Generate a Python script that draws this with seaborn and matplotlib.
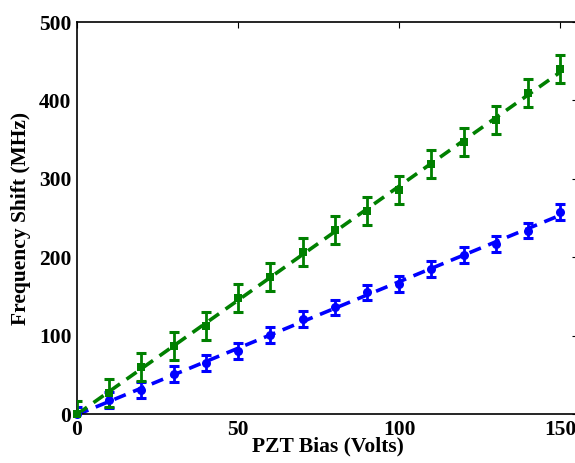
import numpy as np
import pandas as pd
import matplotlib
matplotlib.use("Agg")
import matplotlib.pyplot as plt
import seaborn as sns

# ---- data ----
bias = [0, 10, 20, 30, 40, 50, 60, 70, 80, 90, 100, 110, 120, 130, 140, 150]
shift_green = [0, 27, 60, 87, 112, 148, 175, 207, 235, 259, 286, 319, 347, 375, 409, 440]
err_green = [17, 18, 18, 18, 18, 18, 18, 18, 18, 18, 18, 18, 18, 18, 18, 18]
shift_blue = [0, 18, 31, 51, 65, 80, 101, 121, 136, 155, 166, 185, 203, 217, 234, 258]
err_blue = [9, 10, 10, 10, 10, 10, 10, 10, 10, 10, 10, 10, 10, 10, 10, 10]

x_ticks = [0, 50, 100, 150]
y_ticks = [0, 100, 200, 300, 400, 500]
x_label = "PZT Bias (Volts)"
y_label = "Frequency Shift (MHz)"

green = "#008000"
blue = "#0000FF"

sns.set_theme(style="white")
plt.rcParams["font.family"] = ["Liberation Serif", "DejaVu Serif"]
plt.rcParams["font.weight"] = "bold"
plt.rcParams["text.color"] = "black"
plt.rcParams["axes.labelcolor"] = "black"

df = pd.DataFrame({"bias": bias, "green": shift_green, "eg": err_green,
                   "blue": shift_blue, "eb": err_blue})

fig = plt.figure(figsize=(5.75, 4.63), dpi=100)
ax = fig.add_axes([77 / 575, 1 - 414 / 463, 501 / 575, 392 / 463])

for col, ecol, color, marker, ms in [("blue", "eb", blue, "o", 6.5),
                                     ("green", "eg", green, "s", 6)]:
    sns.regplot(data=df, x="bias", y=col, ax=ax, scatter=False, ci=None,
                truncate=True, color=color,
                line_kws=dict(linestyle=(0, (3.4, 2.2)), linewidth=2.6))
    ax.errorbar(df["bias"], df[col], yerr=df[ecol], fmt="none", ecolor=color,
                elinewidth=2.0, capsize=3.3, capthick=2.2, zorder=3)
    sns.scatterplot(data=df, x="bias", y=col, ax=ax, color=color, marker=marker,
                    s=ms ** 2, edgecolor=color, linewidth=0, zorder=4, legend=False,
                    clip_on=False)

ax.set_xlim(0, 155.5)
ax.set_ylim(0, 500)
ax.set_xticks(x_ticks)
ax.set_yticks(y_ticks)
ax.set_xticklabels([str(t) for t in x_ticks])
ax.set_yticklabels([str(t) for t in y_ticks])
ax.tick_params(direction="in", length=4, width=0.8, top=True, right=True,
               labelsize=15.5, pad=4, colors="black")
for lab in ax.get_xticklabels() + ax.get_yticklabels():
    lab.set_fontweight("bold")
for sp in ax.spines.values():
    sp.set_visible(True)
    sp.set_color("black")
    sp.set_linewidth(1.2)
ax.set_xlabel(x_label, fontsize=15.5, fontweight="bold", labelpad=-2, color="black")
ax.set_ylabel(y_label, fontsize=15.5, fontweight="bold", labelpad=6, color="black")
ax.grid(False)

fig.savefig("out.png", dpi=100)
